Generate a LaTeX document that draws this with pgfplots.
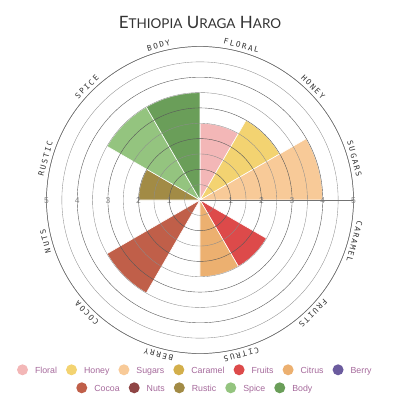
\documentclass[border=0pt]{standalone}
\usepackage{fontspec}
\setmainfont{Liberation Sans}
\newfontfamily\titlefont{Lato}
\newfontfamily\labfont[LetterSpace=22]{DejaVu Sans Mono}
\usepackage{pgfplots}
\usepgfplotslibrary{polar}
\usetikzlibrary{calc}
\pgfplotsset{compat=1.18}

\definecolor{cFloral}{HTML}{F3B7B7}
\definecolor{cHoney}{HTML}{F3D371}
\definecolor{cSugars}{HTML}{F8CA98}
\definecolor{cCaramel}{HTML}{D3AF4B}
\definecolor{cFruits}{HTML}{DD4A4A}
\definecolor{cCitrus}{HTML}{ECB070}
\definecolor{cBerry}{HTML}{6B5B9E}
\definecolor{cCocoa}{HTML}{C05F49}
\definecolor{cNuts}{HTML}{8F4545}
\definecolor{cRustic}{HTML}{A28B45}
\definecolor{cSpice}{HTML}{94C47F}
\definecolor{cBody}{HTML}{6A9E59}
\definecolor{legtext}{HTML}{A5699B}
\definecolor{titlegray}{HTML}{333333}

\newcommand\lgitem[2]{\tikz[baseline={(0,-3.2pt)}]\fill[#1](0,0)circle(5.5pt);\hspace{7pt}#2}
\newcommand\catlab[2]{\node[rotate=#1-90, anchor=base, inner sep=0pt, text=titlegray, font=\labfont\fontsize{7.7}{9}\selectfont] at (axis cs:#1,5.12) {#2};}

\begin{document}
\begin{tikzpicture}
\begin{polaraxis}[
  width=307pt, height=307pt, scale only axis,
  ymin=0, ymax=5,
  xtick=\empty,
  ytick={1,2,3,4,5},
  minor ytick={0.5,1.5,2.5,3.5,4.5},
  yticklabels={},
  ymajorgrids, yminorgrids,
  major grid style={black!65, line width=0.4pt},
  minor grid style={black!45, line width=0.35pt},
  axis line style={black!55, line width=0.5pt},
  major tick length=0pt, minor tick length=0pt,
  axis on top,
  clip=false,
]
% Floral
\addplot[fill=cFloral, draw=white, line width=0.6pt] coordinates {(0,0) (90,2.5) (85,2.5) (80,2.5) (75,2.5) (70,2.5) (65,2.5) (60,2.5)} -- cycle;
% Honey
\addplot[fill=cHoney, draw=white, line width=0.6pt] coordinates {(0,0) (60,3) (55,3) (50,3) (45,3) (40,3) (35,3) (30,3)} -- cycle;
% Sugars
\addplot[fill=cSugars, draw=white, line width=0.6pt] coordinates {(0,0) (30,4) (25,4) (20,4) (15,4) (10,4) (5,4) (0,4)} -- cycle;
% Fruits
\addplot[fill=cFruits, draw=white, line width=0.6pt] coordinates {(0,0) (-30,2.5) (-35,2.5) (-40,2.5) (-45,2.5) (-50,2.5) (-55,2.5) (-60,2.5)} -- cycle;
% Citrus
\addplot[fill=cCitrus, draw=white, line width=0.6pt] coordinates {(0,0) (-60,2.5) (-65,2.5) (-70,2.5) (-75,2.5) (-80,2.5) (-85,2.5) (-90,2.5)} -- cycle;
% Cocoa
\addplot[fill=cCocoa, draw=white, line width=0.6pt] coordinates {(0,0) (-120,3.5) (-125,3.5) (-130,3.5) (-135,3.5) (-140,3.5) (-145,3.5) (-150,3.5)} -- cycle;
% Rustic
\addplot[fill=cRustic, draw=white, line width=0.6pt] coordinates {(0,0) (180,2) (175,2) (170,2) (165,2) (160,2) (155,2) (150,2)} -- cycle;
% Spice
\addplot[fill=cSpice, draw=white, line width=0.6pt] coordinates {(0,0) (150,3.5) (145,3.5) (140,3.5) (135,3.5) (130,3.5) (125,3.5) (120,3.5)} -- cycle;
% Body
\addplot[fill=cBody, draw=white, line width=0.6pt] coordinates {(0,0) (120,3.5) (115,3.5) (110,3.5) (105,3.5) (100,3.5) (95,3.5) (90,3.5)} -- cycle;

\coordinate (O) at (axis cs:0,0);

\catlab{75}{FLORAL}
\catlab{45}{HONEY}
\catlab{15}{SUGARS}
\catlab{-15}{CARAMEL}
\catlab{-45}{FRUITS}
\catlab{-75}{CITRUS}
\catlab{-105}{BERRY}
\catlab{-135}{COCOA}
\catlab{-165}{NUTS}
\catlab{165}{RUSTIC}
\catlab{135}{SPICE}
\catlab{105}{BODY}

\begin{scope}[every node/.style={font=\fontsize{8.5}{9}\selectfont, text=black!45, inner sep=0pt, yshift=-1pt}]
\node at (axis cs:0,1) {1};
\node at (axis cs:0,2) {2};
\node at (axis cs:0,3) {3};
\node at (axis cs:0,4) {4};
\node at (axis cs:0,5) {5};
\node at (axis cs:180,1) {1};
\node at (axis cs:180,2) {2};
\node at (axis cs:180,3) {3};
\node at (axis cs:180,4) {4};
\node at (axis cs:180,5) {5};
\end{scope}
\end{polaraxis}

\begin{scope}[shift={(O)}]
\node[anchor=base, inner sep=0pt, text=titlegray] at (0,171.7pt)
  {\titlefont\fontsize{17}{20}\selectfont E{\fontsize{13.5}{16}\selectfont THIOPIA} U{\fontsize{13.5}{16}\selectfont RAGA} H{\fontsize{13.5}{16}\selectfont ARO}};
\node[anchor=base, inner sep=0pt, text=legtext, font=\fontsize{8.8}{10}\selectfont] at (-5.7pt,-173pt)
  {\lgitem{cFloral}{Floral}\hspace{9pt}\lgitem{cHoney}{Honey}\hspace{9pt}\lgitem{cSugars}{Sugars}\hspace{9pt}\lgitem{cCaramel}{Caramel}\hspace{9pt}\lgitem{cFruits}{Fruits}\hspace{9pt}\lgitem{cCitrus}{Citrus}\hspace{9pt}\lgitem{cBerry}{Berry}};
\node[anchor=base, inner sep=0pt, text=legtext, font=\fontsize{8.8}{10}\selectfont] at (-5.7pt,-191pt)
  {\lgitem{cCocoa}{Cocoa}\hspace{9pt}\lgitem{cNuts}{Nuts}\hspace{9pt}\lgitem{cRustic}{Rustic}\hspace{9pt}\lgitem{cSpice}{Spice}\hspace{9pt}\lgitem{cBody}{Body}};
\end{scope}

\pgfresetboundingbox
\path ($(O)+(-200pt,-200pt)$) rectangle ($(O)+(200pt,200pt)$);
\end{tikzpicture}
\end{document}
